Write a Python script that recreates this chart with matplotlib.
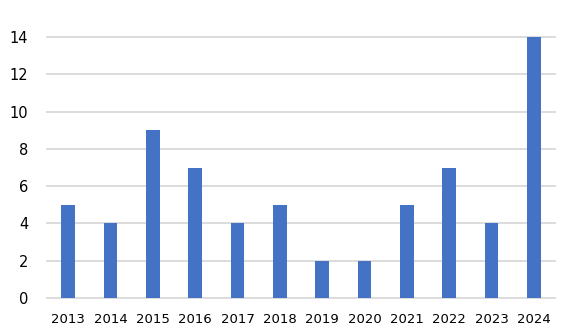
import numpy as np
from matplotlib import pyplot as plt

years = ['2013', '2014', '2015', '2016', '2017', '2018',
         '2019', '2020', '2021', '2022', '2023', '2024']
counts = [5, 4, 9, 7, 4, 5, 2, 2, 5, 7, 4, 14]

plt.rcParams['font.family'] = 'DejaVu Sans'

fig = plt.figure(figsize=(5.66, 3.36), dpi=100)
ax = fig.add_axes([47 / 566, 38 / 336, 508 / 566, 261 / 336])

x = np.arange(len(years))
ax.bar(x, counts, width=0.33, color='#4472C4', zorder=3)

ax.set_xlim(-0.5, len(years) - 0.5)
ax.set_ylim(0, 14)
ax.set_yticks(range(0, 15, 2))
ax.set_xticks(x)
ax.set_xticklabels(years)

ax.grid(axis='y', color='#D9D9D9', linewidth=1.3, zorder=0)
for gl in ax.get_ygridlines():
    gl.set_clip_on(False)
for s in ax.spines.values():
    s.set_visible(False)
ax.tick_params(axis='both', length=0, labelsize=9.5, colors='#000000')
ax.tick_params(axis='y', pad=13.5, labelsize=10.5)
ax.tick_params(axis='x', pad=11)

plt.savefig('out.png', dpi=100)
plt.close()
